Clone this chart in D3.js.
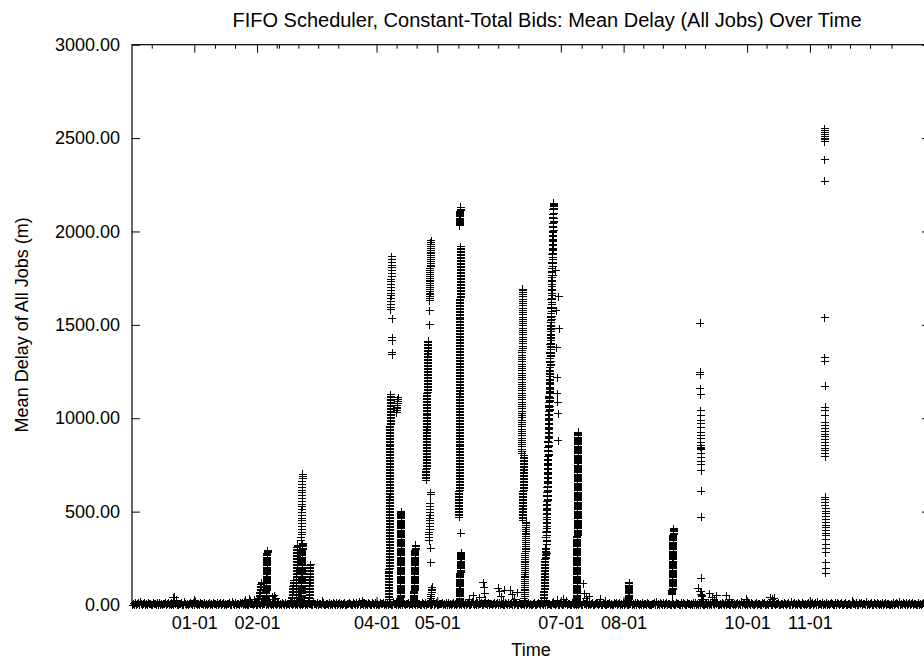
<!DOCTYPE html>
<html><head><meta charset="utf-8">
<script src="https://cdn.jsdelivr.net/npm/d3@7"></script>
<style>
body{margin:0;background:#fff}
svg{display:block}
text{font-family:"Liberation Sans",Arial,Helvetica,sans-serif;fill:#000}
</style>
</head><body>
<svg id="chart" width="924" height="662"></svg>
<script>
// ---------------- data ----------------
const chartTitle = "FIFO Scheduler, Constant-Total Bids: Mean Delay (All Jobs) Over Time";
const xAxisLabel = "Time";
const yAxisLabel = "Mean Delay of All Jobs (m)";
const dataYear = 2009;
const xDomainDays = [-30.75, 363.3];          // days since 01-01
const yDomain = [0, 3000];
const yTickValues = [0, 500, 1000, 1500, 2000, 2500, 3000];
const xTickLabels = ["01-01","02-01","04-01","05-01","07-01","08-01","10-01","11-01"];
const xMinorTickDays = [-21.0,10.2,20.1,40.7,41.8,51.4,61.2,71.1,99.9,109.8,130.4,140.2,150.1,160.0,
  191.3,201.2,221.7,231.4,242.3,252.2,282.6,292.5,313.0,314.2,323.8,333.7,344.3];

// near-zero mean delay sampled across the whole period
const baselineSpanDays = [-30.5, 363.0];
const baselineValues = [
0,6,2,11,0,4,9,1,14,3,0,7,12,2,5,0,10,3,8,1,0,13,4,6,0,9,2,11,1,5,0,8,3,12,0,6,10,2,4,0,
5,0,9,3,12,1,0,7,4,10,2,0,14,6,1,8,0,3,11,5,0,9,2,13,4,0,7,1,10,3,6,0,12,2,8,0,5,11,1,4,
0,10,3,7,0,13,2,5,9,0,4,12,1,6,0,8,3,11,0,2,14,5,0,9,1,7,3,0,12,4,10,0,6,2,8,1,0,13,5,3,
8,0,4,12,2,0,9,5,1,11,0,6,3,14,0,7,2,10,4,0,8,1,13,3,0,6,11,2,5,0,9,4,0,12,1,7,3,0,10,6,
0,3,11,1,7,0,13,4,2,9,0,6,12,1,5,0,10,3,8,0,2,14,4,7,0,11,1,6,3,0,9,5,12,0,2,8,4,0,10,1,
6,0,12,3,1,9,0,5,11,2,7,0,4,13,1,0,8,3,10,6,0,2,12,5,0,9,1,4,14,0,7,3,0,11,2,6,0,10,4,1,
0,9,4,0,12,2,7,1,0,10,5,3,13,0,6,2,11,0,8,4,1,0,14,3,7,0,10,2,5,0,12,1,9,4,0,6,3,11,0,8,
3,0,10,6,1,13,0,4,8,2,0,11,5,1,9,0,7,3,12,0,2,6,14,0,4,10,1,0,8,5,3,12,0,6,2,9,0,11,1,7,
0,5,12,2,8,0,3,10,1,6,0,13,4,0,9,2,7,11,0,1,5,14,3,0,8,2,10,0,6,4,12,1,0,9,3,7,0,11,2,5,
7,0,3,11,0,5,9,2,12,0,4,8,1,0,13,6,2,10,0,3,7,0,14,1,5,9,0,2,11,4,0,8,6,1,12,0,3,10,0,4,
2,0,8,13,1,0,6,10,3,0,11,5,0,9,2,14,0,4,7,1,0,12,3,8,0,5,10,1,0,13,6,2,0,9,4,11,0,7,3,0,
0,11,4,0,7,2,12,0,5,9,1,0,14,3,6,0,10,2,8,0,4,13,1,0,7,11,3,0,6,9,2,0,12,5,1,0,8,3,10,0,
6,1,0,12,4,9,0,3,13,0,7,2,10,0,5,11,1,0,8,3,14,0,6,2,9,0,12,4,0,7,1,11,0,3,8,0,13,5,2,0,
0,7,3,10,0,14,2,6,0,11,4,1,9,0,5,12,0,3,8,2,0,13,6,1,0,10,4,7,0,2,12,0,9,5,1,0,11,3,6,0,
4,0,9,2,12,0,6,1,10,3,0,13,7,0,2,8,5,0,11,1,4,0,14,6,0,9,3,12,0,1,7,0,10,4,2,13,0,5,8,0,
0,12,5,1,8,0,3,11,0,6,2,14,0,9,4,0,7,1,12,3,0,10,5,0,2,8,13,0,4,6,1,0,11,3,9,0,2,7,0,10,
9,0,2,13,5,0,7,3,11,0,1,8,4,0,12,6,0,3,10,2,0,14,1,5,9,0,7,0,11,4,2,0,13,6,1,8,0,3,12,0,
0,6,11,0,3,9,1,14,0,4,7,0,12,2,5,0,10,1,8,0,3,13,6,0,2,11,0,9,4,0,7,12,1,0,5,10,2,0,8,3,
1,0,13,4,7,0,10,2,0,9,5,12,0,3,6,0,14,1,8,0,4,11,0,2,9,6,0,13,3,0,7,1,10,0,5,12,0,4,8,2,
0,8,1,12,0,5,10,3,0,14,2,7,0,11,4,0,9,1,6,13,0,3,10,0,5,8,2,0,12,1,7,0,4,11,0,9,3,14,0,6];

// bursts of delay: first and last sample day (since 01-01) and sampled values in time order
const burstStartDays = [];
const burstEndDays = [];
const burstValues = [];
function burst(start, end, values) { burstStartDays.push(start); burstEndDays.push(end); burstValues.push(values); }

burst(-11.0, -9.0, [12,38,42,25]);
burst(0.2, 0.6, [25,15]);
burst(24.6, 30.5, [15,25,10,30,20,12,28,18]);
burst(31.9, 33.4, [20,28,36,44,52,60,68,76,84,92,100,108,116,120]);
burst(35.5, 36.2, [5,11,17,23,29,35,41,47,53,59,65,71,77,83,89,95,101,107,113,119,125,131,137,143,149,155,161,167,173,179,
  185,191,197,203,209,215,221,227,233,239,245,251,257,263,269,275,281,287,290]);
burst(38.4, 40.3, [20,45,30,50,15,35]);
burst(48.2, 49.2, [10,18,26,34,42,50,58,66,74,82,90,98,106,114,122,130]);
burst(50.4, 51.0, [10,18,26,34,42,50,58,66,74,82,90,98,106,114,122,130,138,146,154,162,170,178,186,194,202,210,218,226,234,242,
  250,258,266,274,282,290,298,306,314,320]);
burst(52.9, 53.5, [5,11,17,23,29,35,41,47,53,59,65,71,77,83,89,95,101,107,113,119,125,131,137,143,149,155,161,167,173,179,
  185,191,197,203,209,215,221,227,233,239,245,251,257,263,269,275,281,287,293,299,305,311,317,323,328]);
burst(52.9, 53.5, [345,360,375,390,405,420,435,450,465,480,495,510,525,540,555,570,585,600,615,630,645,660,675,690,700]);
burst(56.8, 57.4, [10,18,26,34,42,50,58,66,74,82,90,98,106,114,122,130,138,146,154,162,170,178,186,194,202,210,215]);
burst(63.4, 63.8, [20,12]);
burst(83.1, 83.5, [22,10]);
burst(96.3, 97.0, [30,38,46,54,62,70,78,86,94,102,110,118,126,134,142,150,158,166,174,182,190,198,206,214,222,230,238,246,254,
  262,270,278,286,294,302,310,318,326,334,342,350,358,366,374,382,390,398,406,414,422,430,438,446,454,462,470,478,486,494,502,
  510,518,526,534,542,550,558,566,574,582,590,598,606,614,622,630,638,646,654,662,670,678,686,694,702,710,718,726,734,742,750,
  758,766,774,782,790,798,806,814,822,830,838,846,854,862,870,878,886,894,902,910,918,926,934,942,950,958,966,974,982,990,998,
  1006,1014,1022,1030,1038,1046,1054,1062,1070,1078,1086,1094,1102,1110,1118,1126]);
burst(97.0, 97.8, [1580,1595,1610,1625,1640,1655,1670,1685,1700,1715,1730,1745,1760,1775,1790,1805,1820,1835,1850,1865,1533,1432,1415,1350,1340]);
burst(100.0, 100.6, [1030,1040,1050,1060,1070,1080,1090,1100,1110]);
burst(101.8, 102.3, [5,11,17,23,29,35,41,47,53,59,65,71,77,83,89,95,101,107,113,119,125,131,137,143,149,155,161,167,173,179,
  185,191,197,203,209,215,221,227,233,239,245,251,257,263,269,275,281,287,293,299,305,311,317,323,329,335,341,347,353,359,
  365,371,377,383,389,395,401,407,413,419,425,431,437,443,449,455,461,467,473,479,485,491,497,500]);
burst(108.6, 109.3, [5,11,17,23,29,35,41,47,53,59,65,71,77,83,89,95,101,107,113,119,125,131,137,143,149,155,161,167,173,179,
  185,191,197,203,209,215,221,227,233,239,245,251,257,263,269,275,281,287,293,299,305,311,317,320]);
burst(114.6, 115.5, [668,676,684,692,700,708,716,724,732,740,748,756,764,772,780,788,796,804,812,820,828,836,844,852,860,868,876,
  884,892,900,908,916,924,932,940,948,956,964,972,980,988,996,1004,1012,1020,1028,1036,1044,1052,1060,1068,1076,1084,1092,1100,
  1108,1116,1124,1132,1140,1148,1156,1164,1172,1180,1188,1196,1204,1212,1220,1228,1236,1244,1252,1260,1268,1276,1284,1292,1300,
  1308,1316,1324,1332,1340,1348,1356,1364,1372,1380,1388,1396,1404,1412]);
burst(116.3, 116.9, [1500,1575,1630,1640,1650,1660,1670,1680,1690,1700,1710,1720,1730,1740,1750,1760,1770,1780,1790,1800,1810,
  1820,1830,1840,1850,1860,1870,1880,1890,1900,1910,1920,1930,1940,1950]);
burst(116.0, 116.8, [345,360,375,390,405,420,435,450,465,480,495,510,530,545,590,600,305,225]);
burst(116.5, 117.5, [5,15,25,35,45,55,65,75,85,95]);
burst(131.0, 131.6, [2030,2036,2042,2048,2054,2060,2066,2072,2078,2084,2090,2096,2102,2108,2114,2120,2126,2130]);
burst(130.9, 131.6, [470,478,486,494,502,510,518,526,534,542,550,558,566,574,582,590,598,606,614,622,630,638,646,654,662,670,
  678,686,694,702,710,718,726,734,742,750,758,766,774,782,790,798,806,814,822,830,838,846,854,862,870,878,886,894,902,910,918,
  926,934,942,950,958,966,974,982,990,998,1006,1014,1022,1030,1038,1046,1054,1062,1070,1078,1086,1094,1102,1110,1118,1126,1134,
  1142,1150,1158,1166,1174,1182,1190,1198,1206,1214,1222,1230,1238,1246,1254,1262,1270,1278,1286,1294,1302,1310,1318,1326,1334,
  1342,1350,1358,1366,1374,1382,1390,1398,1406,1414,1422,1430,1438,1446,1454,1462,1470,1478,1486,1494,1502,1510,1518,1526,1534,
  1542,1550,1558,1566,1574,1582,1590,1598,1606,1614,1622,1630,1638,1646,1654,1662,1670,1678,1686,1694,1702,1710,1718,1726,1734,
  1742,1750,1758,1766,1774,1782,1790,1798,1806,1814,1822,1830,1838,1846,1854,1862,1870,1878,1886,1894,1902,1910,1918,385]);
burst(131.0, 131.8, [25,31,37,43,49,55,61,67,73,79,85,91,97,103,109,115,121,127,133,139,145,151,157,163,169,175,181,187,193,
  199,205,211,217,223,229,235,241,247,253,259,265,271,277,280]);
burst(136, 141, [30,50,20,40]);
burst(142.6, 144, [120,95,60,25]);
burst(150, 153.4, [90,70,45,20,80]);
burst(156, 159.4, [80,55,30,65]);
burst(161.7, 162.3, [810,822,834,846,858,870,882,894,906,918,930,942,954,966,978,990,1002,1014,1026,1038,1050,1062,1074,1086,
  1098,1110,1122,1134,1146,1158,1170,1182,1194,1206,1218,1230,1242,1254,1266,1278,1290,1302,1314,1326,1338,1350,1362,1374,1386,
  1398,1410,1422,1434,1446,1458,1470,1482,1494,1506,1518,1530,1542,1554,1566,1578,1590,1602,1614,1626,1638,1650,1662,1674,1686,1690]);
burst(162.2, 163.0, [455,463,471,479,487,495,503,511,519,527,535,543,551,559,567,575,583,591,599,607,615,623,631,639,647,655,
  663,671,679,687,695,703,711,719,727,735,743,751,759,767,775,783,791,799]);
burst(163.0, 163.9, [5,15,25,35,45,55,65,75,85,95,105,115,125,135,145,155,165,175,185,195,205,215,225,235,245,255,265,275,285,
  295,305,315,325,335,345,355,365,375,385,395,405,415,425,435,440]);
burst(172.8, 173.6, [25,33,41,49,57,65,73,81,89,97,105,113,121,129,137,145,153,161,169,177,185,193,201,209,217,225,233,241,249,
  257,265,273,281,289,297,305]);
burst(173.9, 177.6, [
  390,296,362,278,394,340,436,322, 438,344,410,326,442,388,484,370, 486,392,458,374,490,436,532,418,
  534,440,506,422,538,484,580,466, 582,488,554,470,586,532,628,514, 630,536,602,518,634,580,676,562,
  678,584,650,566,682,628,724,610, 726,632,698,614,730,676,772,658, 774,680,746,662,778,724,820,706,
  822,728,794,710,826,772,868,754, 870,776,842,758,874,820,916,802, 918,824,890,806,922,868,964,850,
  966,872,938,854,970,916,1012,898, 1014,920,986,902,1018,964,1060,946, 1062,968,1034,950,1066,1012,1108,994,
  1110,1016,1082,998,1114,1060,1156,1042, 1158,1064,1130,1046,1162,1108,1204,1090, 1206,1112,1178,1094,1210,1156,1252,1138,
  1254,1160,1226,1142,1258,1204,1300,1186, 1302,1208,1274,1190,1306,1252,1348,1234, 1350,1256,1322,1238,1354,1300,1396,1282,
  1398,1304,1370,1286,1402,1348,1444,1330, 1446,1352,1418,1334,1450,1396,1492,1378, 1494,1400,1466,1382,1498,1444,1540,1426,
  1542,1448,1514,1430,1546,1492,1588,1474, 1590,1496,1562,1478,1594,1540,1636,1522, 1638,1544,1610,1526,1642,1588,1684,1570,
  1686,1592,1658,1574,1690,1636,1732,1618, 1734,1640,1706,1622,1738,1684,1780,1666, 1782,1688,1754,1670,1786,1732,1828,1714,
  1830,1736,1802,1718,1834,1780,1876,1762, 1878,1784,1850,1766,1882,1828,1924,1810, 1926,1832,1898,1814,1930,1876,1972,1858,
  1974,1880,1946,1862,1978,1924,2020,1906, 2022,1928,1994,1910,2026,1972,2068,1954, 2070,1976,2042,1958,2074,2020,2116,2002,
  2118,2024,2090,2006,2122,2068,2150,2050, 2150,2072,2138,2054,2150,2116,2150,2098, 2150,2140,2145,2135,2150]);
burst(178.6, 180.2, [1790,1575,1378,1218,1132,1085,1025,880,1650,1480]);
burst(177.5, 184, [15,25,10,30,20]);
burst(189.0, 189.6, [5,11,17,23,29,35,41,47,53,59,65,71,77,83,89,95,101,107,113,119,125,131,137,143,149,155,161,167,173,179,
  185,191,197,203,209,215,221,227,233,239,245,251,257,263,269,275,281,287,293,299,305,311,317,323,329,335,341,347,353,359,
  365,371,377,383,389,395,401,407,413,419,425,431,437,443,449,455,461,467,473,479,485,491,497,503,509,515,521,527,533,539,
  545,551,557,563,569,575,581,587,593,599,605,611,617,623,629,635,641,647,653,659,665,671,677,683,689,695,701,707,713,719,
  725,731,737,743,749,755,761,767,773,779,785,791,797,803,809,815,821,827,833,839,845,851,857,863,869,875,881,887,893,899,
  905,911,917,925]);
burst(192, 195, [115,60,35,20,45]);
burst(200.5, 203, [30,20]);
burst(214.3, 214.9, [5,11,17,23,29,35,41,47,53,59,65,71,77,83,89,95,101,107,113,119]);
burst(236.1, 236.7, [55,61,67,73,79,85,91,97,103,109,115,121,127,133,139,145,151,157,163,169,175,181,187,193,199,205,211,217,
  223,229,235,241,247,253,259,265,271,277,283,289,295,301,307,313,319,325,331,337,343,349,355,361,367,373,379,385,391,397,403,409]);
burst(249.9, 250.5, [1508,1246,1234,1159,1127,1040,1015,990,970,950,925,905,890,870,855,845,840,830,810,790,770,750,720,609,470,144,70,55,43,30]);
burst(248.9, 251.7, [90,70,50,30]);
burst(254.6, 258, [60,40,30,50]);
burst(262.8, 264.3, [50,30]);
burst(272.5, 272.9, [30,15]);
burst(284.5, 286.5, [40,30,35]);
burst(311.3, 311.9, [2550,2540,2530,2520,2510,2500,2490,2480,2383,2270,1538,1325,1305,1170,1058,1040,1015,975,960,945,930,915,900,885,870,855,840,
  825,810,795,578,563,548,533,518,503,488,473,458,443,428,413,398,385,370,350,325,300,280,225,195,170]);
burst(325.0, 325.4, [20,10]);

// ---------------- chart ----------------
const svg = d3.select("#chart");
const plot = {left: 132, right: 930, top: 44.7, bottom: 605};
const DAY = 864e5, EPOCH = Date.UTC(dataYear, 0, 1);
const dayToDate = d => new Date(EPOCH + d * DAY);

const x = d3.scaleUtc().domain(xDomainDays.map(dayToDate)).range([plot.left, plot.right]);
const y = d3.scaleLinear().domain(yDomain).range([plot.bottom, plot.top]);

const parseMD = d3.utcParse("%Y-%m-%d");
const majorDates = xTickLabels.map(l => parseMD(dataYear + "-" + l));
const minorDates = xMinorTickDays.map(dayToDate);

// points
const points = [];
const nb = baselineValues.length;
baselineValues.forEach((v, i) => points.push({
  t: dayToDate(baselineSpanDays[0] + (baselineSpanDays[1] - baselineSpanDays[0]) * i / (nb - 1)), v}));
burstValues.forEach((vals, k) => {
  const s = burstStartDays[k], e = burstEndDays[k], n = vals.length;
  vals.forEach((v, i) => points.push({t: dayToDate(n > 1 ? s + (e - s) * i / (n - 1) : s), v}));
});

svg.append("g").attr("class", "points")
  .attr("shape-rendering", "crispEdges")
  .selectAll("path").data(points).join("path")
  .attr("d", "M-4,0H4M0,-4V4")
  .attr("transform", d => `translate(${x(d.t)},${y(d.v)})`)
  .attr("fill", "none").attr("stroke", "#000").attr("stroke-width", 1);

// frame
svg.append("rect")
  .attr("x", plot.left).attr("y", plot.top)
  .attr("width", plot.right - plot.left).attr("height", plot.bottom - plot.top)
  .attr("fill", "none").attr("stroke", "#000").attr("stroke-width", 1.2);

const fmtMD = d3.utcFormat("%m-%d");
const gB = svg.append("g").attr("transform", `translate(0,${plot.bottom})`)
  .call(d3.axisBottom(x).tickValues(majorDates).tickFormat(fmtMD).tickSizeInner(-8).tickSizeOuter(0).tickPadding(11));
const gBm = svg.append("g").attr("transform", `translate(0,${plot.bottom})`)
  .call(d3.axisBottom(x).tickValues(minorDates).tickFormat("").tickSizeInner(-4).tickSizeOuter(0));
const gT = svg.append("g").attr("transform", `translate(0,${plot.top})`)
  .call(d3.axisTop(x).tickValues(majorDates).tickFormat("").tickSizeInner(-8).tickSizeOuter(0));
const gTm = svg.append("g").attr("transform", `translate(0,${plot.top})`)
  .call(d3.axisTop(x).tickValues(minorDates).tickFormat("").tickSizeInner(-4).tickSizeOuter(0));
const gL = svg.append("g").attr("transform", `translate(${plot.left},0)`)
  .call(d3.axisLeft(y).tickValues(yTickValues).tickFormat(d3.format(".2f")).tickSizeInner(-8).tickSizeOuter(0).tickPadding(12));
const gR = svg.append("g").attr("transform", `translate(${plot.right},0)`)
  .call(d3.axisRight(y).tickValues(yTickValues).tickFormat("").tickSizeInner(-8).tickSizeOuter(0));

[gB, gBm, gT, gTm, gL, gR].forEach(g => {
  g.select(".domain").remove();
  g.selectAll("line").attr("stroke", "#000").attr("stroke-width", 1);
  g.selectAll("text").attr("font-size", 18).attr("font-family", '"Liberation Sans",Arial,sans-serif').attr("fill", "#000");
});

svg.append("text").attr("x", 547).attr("y", 27)
  .attr("text-anchor", "middle").attr("font-size", 20).text(chartTitle);
svg.append("text").attr("x", (plot.left + plot.right) / 2).attr("y", 656)
  .attr("text-anchor", "middle").attr("font-size", 18).text(xAxisLabel);
svg.append("text").attr("transform", `translate(28,${(plot.top + plot.bottom) / 2}) rotate(-90)`)
  .attr("text-anchor", "middle").attr("font-size", 18).text(yAxisLabel);
</script>
</body></html>
